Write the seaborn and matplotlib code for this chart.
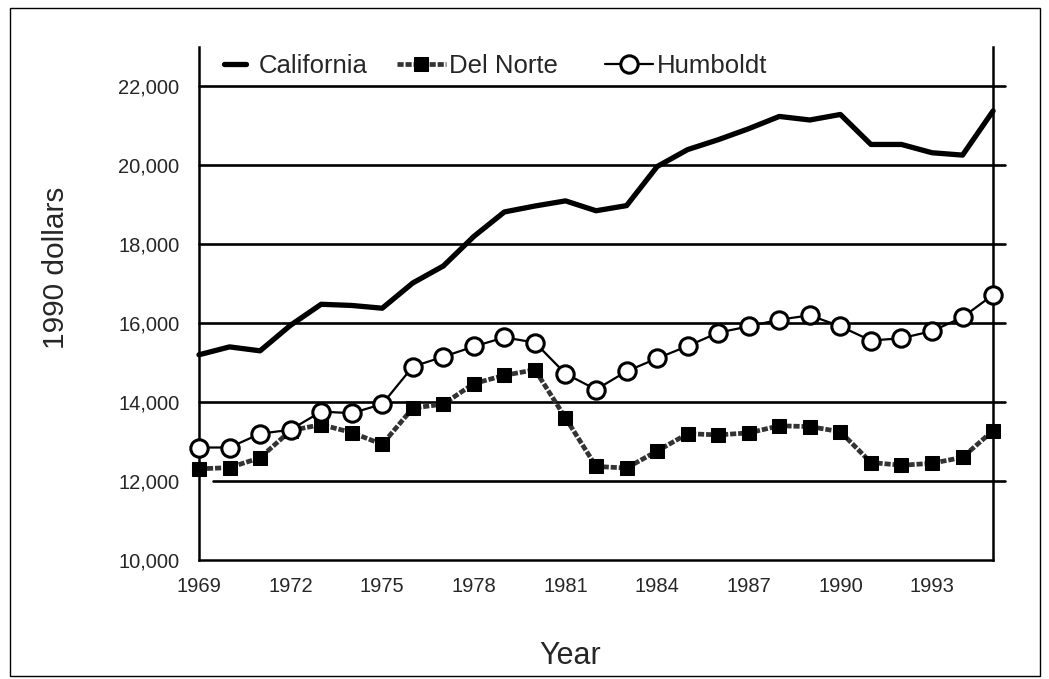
import numpy as np
import pandas as pd
import matplotlib
matplotlib.use('Agg')
import matplotlib.pyplot as plt
import matplotlib.ticker as mticker
from matplotlib.patches import Rectangle
import seaborn as sns

# Per-capita income in 1990 dollars
years = list(range(1969, 1996))
california = [15200, 15400, 15300, 15950, 16480, 16450, 16380, 17020, 17450, 18200,
              18820, 18970, 19100, 18850, 18980, 19970, 20400, 20650, 20930, 21240,
              21150, 21290, 20530, 20530, 20320, 20260, 21380]
del_norte = [12310, 12340, 12590, 13280, 13430, 13230, 12930, 13850, 13950, 14470,
             14680, 14820, 13600, 12370, 12330, 12760, 13200, 13170, 13220, 13400,
             13380, 13250, 12470, 12400, 12450, 12600, 13280]
humboldt = [12850, 12850, 13200, 13300, 13760, 13720, 13950, 14900, 15150, 15410,
            15640, 15510, 14720, 14320, 14780, 15110, 15420, 15760, 15920, 16090,
            16200, 15920, 15560, 15620, 15800, 16150, 16720]
year_labels = list(range(1969, 1996, 3))
grid_values = [12000, 14000, 16000, 18000, 20000, 22000]

df = pd.DataFrame({'Year': years, 'California': california,
                   'Del Norte': del_norte, 'Humboldt': humboldt})

sns.set_style('white')
plt.rcParams['font.family'] = ['Liberation Sans', 'DejaVu Sans']

fig = plt.figure(figsize=(10.49, 6.79), dpi=100)
ax = fig.add_axes([0.1897, 0.1753, 0.757, 0.7555])

# horizontal rules
for g in grid_values:
    xmin = 0.018 if g == 12000 else 0.0
    ax.axhline(g, xmin=xmin, xmax=1.015, color='black', lw=1.9, clip_on=False, zorder=1)

sns.lineplot(data=df, x='Year', y='California', ax=ax, color='black', lw=3.8,
             label='California', zorder=3, clip_on=False)
sns.lineplot(data=df, x='Year', y='Del Norte', ax=ax, color='0.2', lw=3.4,
             dashes=False, marker='s', markersize=10.5, markerfacecolor='black',
             markeredgecolor='black', label='Del Norte', zorder=4, clip_on=False)
ax.lines[-1].set_linestyle((0, (1.3, 0.4)))
sns.lineplot(data=df, x='Year', y='Humboldt', ax=ax, color='black', lw=1.6,
             marker='o', markersize=12.5, markerfacecolor='white',
             markeredgecolor='black', markeredgewidth=2.2, label='Humboldt',
             zorder=5, clip_on=False)

ax.set_xlim(1969, 1995)
ax.set_ylim(10000, 23000)
ax.set_xticks(year_labels)
ax.xaxis.set_minor_locator(mticker.MultipleLocator(1))
ax.yaxis.set_minor_locator(mticker.MultipleLocator(500))
ax.set_yticks([10000, 12000, 14000, 16000, 18000, 20000, 22000])
ax.yaxis.set_major_formatter(mticker.StrMethodFormatter('{x:,.0f}'))

ax.tick_params(axis='both', which='major', direction='out', length=8, width=1.8,
               labelsize=14.5, color='black', pad=4)
ax.tick_params(axis='y', which='major', pad=6)
ax.tick_params(axis='both', which='minor', direction='out', length=4.5, width=1.6,
               color='black')

for side in ['left', 'bottom', 'right']:
    ax.spines[side].set_visible(True)
    ax.spines[side].set_color('black')
    ax.spines[side].set_linewidth(1.8)
ax.spines['top'].set_visible(False)

ax.set_xlabel('Year', fontsize=22)
ax.set_ylabel('1990 dollars', fontsize=21.5)
ax.xaxis.set_label_coords(0.467, -0.158)
ax.yaxis.set_label_coords(-0.162, 0.57)

handles, labels = ax.get_legend_handles_labels()
leg1 = ax.legend(handles[:1], labels[:1], loc='center left', bbox_to_anchor=(0.032, 0.962),
                 frameon=False, fontsize=18.5, handlelength=0.85, handletextpad=0.5,
                 borderpad=0, borderaxespad=0)
ax.add_artist(leg1)
ax.legend(handles[1:], labels[1:], loc='center left', bbox_to_anchor=(0.249, 0.962), ncol=2,
          frameon=False, fontsize=18.5, handlelength=1.9, handletextpad=0.15,
          columnspacing=1.8, borderpad=0, borderaxespad=0)

# outer frame around the whole picture
fig.patches.append(Rectangle((0.0095, 0.005), 0.982, 0.983, transform=fig.transFigure,
                             fill=False, edgecolor='black', lw=1.0))

fig.savefig('out.png', dpi=100)
